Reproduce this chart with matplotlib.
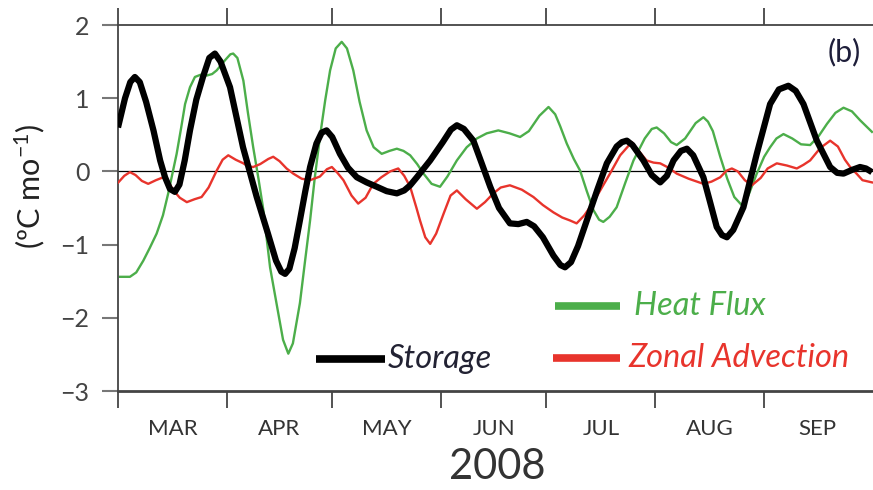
import matplotlib
matplotlib.use("Agg")
import matplotlib.pyplot as plt

# days since 1 March 2008, values in degC per month
storage_day = [0, 2.0, 3.5, 4.8, 6.2, 8.0, 10.1, 12.0, 13.4, 14.8, 16.2, 17.5, 19.0,
               20.5, 22.3, 24.2, 26.0, 27.6, 29.2, 31.9, 35.6, 39.5, 42.7, 45.0,
               46.5, 47.6, 48.8, 50.3, 51.8, 53.3, 54.7, 56.5, 58.0, 59.4, 61.0,
               63.2, 65.5, 68.0, 70.8, 73.7, 76.5, 79.4, 81.5, 83.2, 85.1, 88.9,
               92.5, 94.8, 96.5, 98.5, 101.2, 103.5, 106.0, 108.5, 111.6, 114.0,
               116.4, 118.5, 121.0, 124.0, 126.0, 127.3, 129.0, 131.0, 133.5, 136.5,
               139.2, 142.0, 143.5, 144.9, 146.5, 149.6, 152.0, 154.4, 156.3, 158.2,
               160.3, 162.0, 163.8, 166.7, 168.5, 170.5, 172.0, 173.4, 175.2, 178.1,
               181.9, 185.7, 188.2, 190.9, 193.0, 195.2, 199.0, 202.8, 204.8, 206.6,
               209.0, 211.3, 213.0, 214.7]
storage_val = [0.60, 1.00, 1.22, 1.29, 1.22, 0.95, 0.56, 0.15, -0.08, -0.24, -0.28, -0.18, 0.15,
               0.56, 0.98, 1.29, 1.55, 1.61, 1.50, 1.15, 0.33, -0.35, -0.85, -1.22,
               -1.37, -1.40, -1.33, -1.05, -0.67, -0.28, 0.06, 0.38, 0.53, 0.56, 0.47,
               0.24, 0.05, -0.08, -0.15, -0.21, -0.27, -0.30, -0.26, -0.19, -0.08, 0.15,
               0.40, 0.57, 0.63, 0.58, 0.42, 0.12, -0.21, -0.50, -0.71, -0.72,
               -0.69, -0.75, -0.90, -1.15, -1.28, -1.31, -1.24, -1.02, -0.67, -0.25,
               0.11, 0.34, 0.40, 0.42, 0.36, 0.15, -0.05, -0.15, -0.06, 0.15,
               0.28, 0.31, 0.22, -0.08, -0.40, -0.76, -0.87, -0.90, -0.80, -0.49,
               0.24, 0.92, 1.12, 1.17, 1.10, 0.92, 0.42, 0.06, -0.02, -0.03,
               0.02, 0.06, 0.04, -0.01]

heat_day = [0.6, 3.4, 5.2, 7.2, 9.0, 11.0, 12.8, 14.3, 15.5, 16.7, 18.0, 19.1, 20.5,
            21.9, 23.5, 25.3, 26.8, 28.1, 30.5, 32.0, 32.8, 34.0, 35.7, 37.0, 38.5,
            40.0, 41.4, 43.3, 45.5, 47.0, 48.5, 49.8, 51.8, 53.2, 54.7, 56.0, 57.5,
            59.0, 60.4, 62.0, 63.7, 65.2, 67.0, 68.8, 70.8, 72.8, 75.1, 77.3, 79.4,
            81.3, 83.2, 85.2, 87.0, 89.3, 91.7, 93.8, 96.5, 99.3, 102.2, 105.0,
            108.3, 111.5, 114.5, 117.0, 120.0, 122.6, 124.5, 125.9, 127.8, 129.8,
            131.6, 133.5, 135.4, 137.0, 138.2, 140.0, 142.0, 144.5, 146.8, 150.0,
            152.0, 153.4, 155.5, 157.5, 159.1, 161.5, 164.5, 166.7, 168.0, 169.4,
            171.5, 173.5, 175.5, 177.6, 179.5, 181.9, 184.0, 185.7, 187.5, 189.5,
            192.0, 194.5, 197.1, 199.5, 201.9, 204.3, 206.6, 209.0, 211.3, 213.0, 214.7]
heat_val = [-1.44, -1.44, -1.38, -1.22, -1.05, -0.85, -0.60, -0.30, -0.03, 0.24, 0.60, 0.92, 1.15,
            1.29, 1.32, 1.31, 1.33, 1.38, 1.52, 1.60, 1.61, 1.55, 1.24, 0.80, 0.33,
            -0.10, -0.53, -1.31, -1.90, -2.30, -2.49, -2.35, -1.80, -1.25, -0.67, -0.10, 0.47,
            0.97, 1.38, 1.68, 1.77, 1.68, 1.38, 0.95, 0.56, 0.33, 0.24, 0.28, 0.31,
            0.28, 0.22, 0.10, -0.03, -0.17, -0.21, -0.07, 0.15, 0.33, 0.45, 0.52,
            0.56, 0.52, 0.47, 0.55, 0.76, 0.88, 0.78, 0.62, 0.38, 0.17,
            0.01, -0.27, -0.53, -0.66, -0.69, -0.62, -0.49, -0.15, 0.15, 0.45,
            0.58, 0.60, 0.52, 0.40, 0.36, 0.45, 0.66, 0.74, 0.68, 0.55,
            0.20, -0.10, -0.35, -0.46, -0.33, -0.03, 0.20, 0.33, 0.45, 0.51,
            0.45, 0.37, 0.36, 0.48, 0.65, 0.80, 0.87, 0.82, 0.70, 0.62, 0.54]

zonal_day = [0.1, 1.8, 3.4, 5.0, 6.8, 8.6, 10.8, 12.9, 14.3, 15.8, 17.6, 19.6, 21.8,
             23.8, 25.8, 28.1, 29.8, 31.4, 33.5, 35.7, 37.0, 38.5, 40.5, 42.8, 44.2,
             46.0, 48.0, 49.9, 52.3, 54.7, 57.5, 59.5, 60.9, 62.5, 64.2, 66.5, 68.4,
             70.5, 72.7, 75.0, 77.5, 79.8, 81.5, 83.2, 85.0, 86.0, 87.5, 88.9, 90.6,
             92.7, 94.7, 96.5, 99.0, 102.2, 104.5, 106.9, 109.0, 111.6, 115.0, 118.3,
             121.0, 124.0, 126.5, 128.7, 130.6, 132.8, 135.4, 137.8, 140.1, 143.0,
             146.3, 148.3, 150.5, 152.5, 154.4, 156.8, 159.1, 162.5, 166.7, 169.0,
             171.5, 173.3, 174.8, 176.5, 178.5, 180.5, 183.0, 185.0, 187.6, 190.5,
             193.3, 195.2, 197.1, 200.0, 202.8, 205.0, 207.0, 208.5, 210.5, 212.0, 214.7]
zonal_val = [-0.15, -0.06, -0.01, -0.05, -0.13, -0.17, -0.12, -0.08, -0.14, -0.26, -0.36, -0.42, -0.38,
             -0.35, -0.22, 0.01, 0.16, 0.22, 0.16, 0.11, 0.07, 0.06, 0.10, 0.17, 0.20,
             0.14, 0.04, -0.03, -0.10, -0.12, -0.07, 0.03, 0.06, -0.02, -0.12, -0.33, -0.44,
             -0.36, -0.17, -0.08, 0.00, 0.04, -0.06, -0.21, -0.50, -0.67, -0.90, -0.99, -0.85,
             -0.58, -0.33, -0.26, -0.38, -0.51, -0.42, -0.30, -0.22, -0.19, -0.25, -0.35,
             -0.46, -0.56, -0.63, -0.67, -0.71, -0.60, -0.42, -0.22, -0.03, 0.22,
             0.40, 0.28, 0.15, 0.12, 0.11, 0.05, -0.03, -0.10, -0.17, -0.14,
             -0.08, 0.01, 0.04, 0.00, -0.12, -0.19, -0.09, 0.04, 0.11, 0.08,
             0.04, 0.09, 0.15, 0.32, 0.42, 0.34, 0.16, 0.06, -0.04, -0.12, -0.15]

month_starts = [0, 31, 61, 92, 122, 153, 184]
month_mids = [15.5, 46, 76.5, 107, 137.5, 168.5, 199]
month_labels = ["MAR", "APR", "MAY", "JUN", "JUL", "AUG", "SEP"]
y_ticks = [-3, -2, -1, 0, 1, 2]

GREEN = "#4cae4a"
RED = "#e8342c"
GREY = "#444444"

plt.rcParams["font.family"] = ["Lato", "DejaVu Sans"]
plt.rcParams["mathtext.default"] = "regular"

fig = plt.figure(figsize=(8.73, 4.9), dpi=100)
ax = fig.add_axes([118 / 873, 1 - 391 / 490, 1 - 118 / 873, (391 - 25) / 490])

ax.axhline(0, color="black", lw=0.9, zorder=1)
ax.plot(heat_day, heat_val, color=GREEN, lw=1.7, zorder=2, solid_joinstyle="round")
ax.plot(zonal_day, zonal_val, color=RED, lw=1.7, zorder=3, solid_joinstyle="round")
ax.plot(storage_day, storage_val, color="black", lw=4.5, zorder=4,
        solid_joinstyle="round", solid_capstyle="butt")

ax.set_xlim(0, 215)
ax.set_ylim(-3, 2)

for side in ["left", "top", "bottom"]:
    ax.spines[side].set_color(GREY)
ax.spines["left"].set_linewidth(1.3)
ax.spines["top"].set_linewidth(1.3)
ax.spines["bottom"].set_linewidth(2.0)
ax.spines["right"].set_visible(False)

ax.set_xticks(month_starts)
ax.set_xticks(month_mids, minor=True)
ax.set_xticklabels([])
ax.set_xticklabels(month_labels, minor=True)
ax.tick_params(axis="x", which="major", direction="out", length=12.5, width=1.3,
               color=GREY, top=True, bottom=True)
ax.tick_params(axis="x", which="minor", length=0, pad=20, labelsize=16, labelcolor="#333333")

ax.set_yticks(y_ticks)
ax.tick_params(axis="y", direction="out", length=11.5, width=1.5, color="#777777",
               pad=9, labelsize=18, labelcolor="#444444")

fig.text(30 / 873, 1 - 186 / 490, "(ºC mo$^{-1}$)", rotation=90, ha="center",
         va="center", fontsize=22, color="#222222")
fig.text(497 / 873, 1 - 467 / 490, "2008", ha="center", va="center",
         fontsize=30, color="#333333")
fig.text(844 / 873, 1 - 52 / 490, "(b)", ha="center", va="center", fontsize=22,
         color="#1e1e3a")

# legend drawn by hand, in figure pixels
def legend_entry(x0, x1, y, color, label, tx):
    fy = 1 - y / 490
    fig.add_artist(plt.Line2D([x0 / 873, x1 / 873], [fy, fy], color=color, lw=5.5,
                              solid_capstyle="butt"))
    fig.text(tx / 873, fy, label, ha="left", va="center", fontsize=23.5,
             style="italic", color="#222233" if color == "black" else color)

legend_entry(316, 385, 359, "black", "Storage", 388)
legend_entry(555, 620, 306, GREEN, "Heat Flux", 634)
legend_entry(553, 620, 358, RED, "Zonal Advection", 628)

fig.savefig("out.png", dpi=100)
